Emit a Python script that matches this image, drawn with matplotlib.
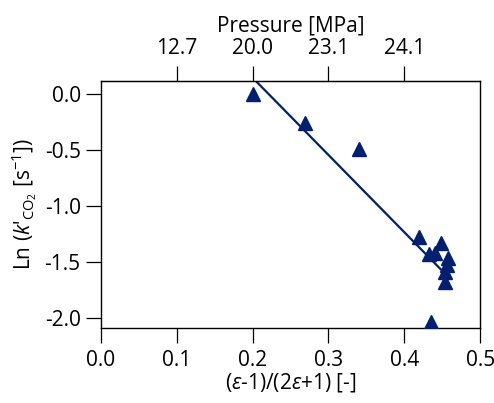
import matplotlib
matplotlib.use("Agg")
import matplotlib.pyplot as plt

# polarity function (eps-1)/(2eps+1) and measured ln k'
polarity = [0.200, 0.269, 0.340, 0.419, 0.449, 0.432, 0.441, 0.458, 0.456, 0.454, 0.453, 0.435]
ln_k = [0.00, -0.26, -0.49, -1.27, -1.33, -1.43, -1.42, -1.46, -1.52, -1.59, -1.68, -2.03]

# linear fit
fit_slope = -6.90
fit_intercept = 1.529
fit_range = [0.195, 0.455]

# top axis: pressure labels
pressure_pos = [0.1, 0.2, 0.3, 0.4]
pressure_labels = ["12.7", "20.0", "23.1", "24.1"]

x_ticks = [0.0, 0.1, 0.2, 0.3, 0.4, 0.5]
y_ticks = [0.0, -0.5, -1.0, -1.5, -2.0]

navy = "#001f6e"

plt.rcParams["font.family"] = ["Open Sans", "DejaVu Sans"]
plt.rcParams["mathtext.fontset"] = "custom"
plt.rcParams["mathtext.rm"] = "Open Sans"
plt.rcParams["mathtext.it"] = "Open Sans:italic"
plt.rcParams["font.size"] = 15

fig = plt.figure(figsize=(4.94, 4.03), dpi=100)
ax = fig.add_axes([0.204, 0.186, 0.768, 0.613])

fit_y = [fit_intercept + fit_slope * x for x in fit_range]
ax.plot(fit_range, fit_y, color=navy, linewidth=1.6, zorder=2)
ax.plot(polarity, ln_k, linestyle="none", marker="^", markersize=9.5,
        color=navy, zorder=3)

ax.set_xlim(0, 0.5)
ax.set_ylim(-2.087, 0.119)
ax.set_xticks(x_ticks)
ax.set_xticklabels([f"{v:.1f}" for v in x_ticks])
ax.set_yticks(y_ticks)
ax.set_yticklabels([f"{v:.1f}" for v in y_ticks])
ax.tick_params(direction="out", length=10.5, width=0.9, pad=4)
ax.tick_params(axis="x", pad=5)
for s in ax.spines.values():
    s.set_linewidth(1.0)

ax.set_xlabel(r"($\varepsilon$-1)/(2$\varepsilon$+1) [-]", labelpad=0)
ax.set_ylabel(r"Ln ($k$'$_{\mathrm{CO_2}}$ [s$^{-1}$])", labelpad=4)

top = ax.secondary_xaxis("top")
top.set_xticks(pressure_pos)
top.set_xticklabels(pressure_labels)
top.tick_params(direction="out", length=10.5, width=0.9, pad=5)
top.set_xlabel("Pressure [MPa]", labelpad=5)

fig.savefig("out.png", dpi=100)
